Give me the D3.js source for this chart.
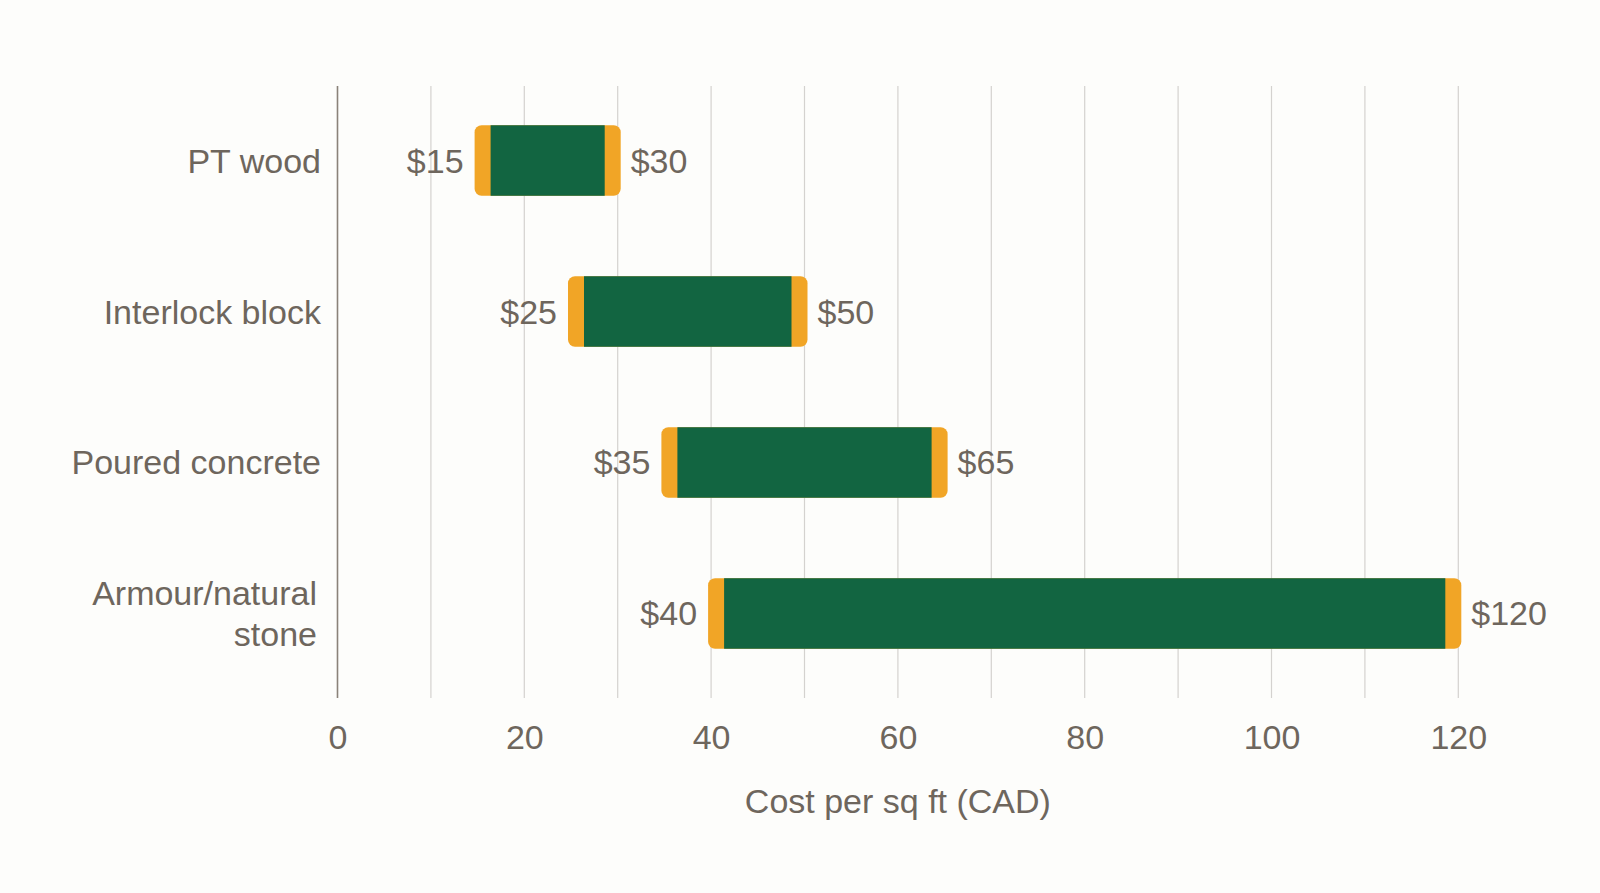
<!DOCTYPE html>
<html lang="en">
<head>
<meta charset="utf-8">
<title>Cost per sq ft</title>
<script src="https://d3js.org/d3.v7.min.js"></script>
<style>
  html, body { margin: 0; padding: 0; background: #fdfdfb; }
  svg { display: block; font-family: "Liberation Sans", Arial, sans-serif; }
  .tick text { fill: #6e665d; font-size: 34px; }
</style>
</head>
<body>
<script>
// data
const categories = ["PT wood", "Interlock block", "Poured concrete", "Armour/natural stone"];
const lowValues = [15, 25, 35, 40];
const highValues = [30, 50, 65, 120];
const xTickValues = [0, 20, 40, 60, 80, 100, 120];
const xTitle = "Cost per sq ft (CAD)";

const w = 1600, h = 893;
const margin = {left: 337.5, right: 141.7, top: 86, bottom: 195};
const textColor = "#6e665d";
const green = "#126541";
const orange = "#f1a526";

const svg = d3.select("body").append("svg")
    .attr("width", w)
    .attr("height", h);

const xScale = d3.scaleLinear()
    .domain([0, 120])
    .range([margin.left, w - margin.right]);

const yScale = d3.scaleBand()
    .domain(categories)
    .range([86, 688])
    .paddingInner(0.533)
    .paddingOuter(0.26);

// gridlines every 10
svg.append("g")
    .selectAll("line")
    .data(d3.range(10, 121, 10))
    .join("line")
    .attr("x1", d => xScale(d)).attr("x2", d => xScale(d))
    .attr("y1", margin.top).attr("y2", h - margin.bottom)
    .attr("stroke", "#d4d2cf")
    .attr("stroke-width", 1.2);

// x axis (labels only)
const xAxis = d3.axisBottom(xScale)
    .tickValues(xTickValues)
    .tickSize(0)
    .tickPadding(27)
    .tickFormat(d3.format("d"));

svg.append("g")
    .attr("transform", `translate(0,${h - margin.bottom})`)
    .call(xAxis)
    .call(g => g.select(".domain").remove());

// y axis line
svg.append("line")
    .attr("x1", xScale(0)).attr("x2", xScale(0))
    .attr("y1", margin.top).attr("y2", h - margin.bottom)
    .attr("stroke", "#8a8279")
    .attr("stroke-width", 1.6);

// category labels
const catLines = {"Armour/natural stone": ["Armour/natural", "stone"]};
categories.forEach(c => {
    const cy = yScale(c) + yScale.bandwidth() / 2;
    const lines = catLines[c] || [c];
    const t = svg.append("text")
        .attr("text-anchor", "end")
        .attr("fill", textColor)
        .style("font-size", "34px");
    lines.forEach((ln, i) => {
        t.append("tspan")
            .attr("x", lines.length > 1 ? 317 : 321)
            .attr("y", cy + 12 + (i - (lines.length - 1) / 2) * 41)
            .text(ln);
    });
});

// bars
const pad = 3, capW = 16;
const rows = categories.map((c, i) => ({cat: c, lo: lowValues[i], hi: highValues[i]}));

const bar = svg.append("g").selectAll("g")
    .data(rows)
    .join("g");

bar.append("rect")
    .attr("x", d => xScale(d.lo) - pad)
    .attr("y", d => yScale(d.cat))
    .attr("width", d => xScale(d.hi) - xScale(d.lo) + 2 * pad)
    .attr("height", yScale.bandwidth())
    .attr("rx", 7)
    .attr("fill", orange);

bar.append("rect")
    .attr("x", d => xScale(d.lo) - pad + capW)
    .attr("y", d => yScale(d.cat))
    .attr("width", d => xScale(d.hi) - xScale(d.lo) + 2 * pad - 2 * capW)
    .attr("height", yScale.bandwidth())
    .attr("fill", green);

bar.append("text")
    .attr("x", d => xScale(d.lo) - pad - 11)
    .attr("y", d => yScale(d.cat) + yScale.bandwidth() / 2 + 12)
    .attr("text-anchor", "end")
    .attr("fill", textColor)
    .style("font-size", "34px")
    .text(d => "$" + d.lo);

bar.append("text")
    .attr("x", d => xScale(d.hi) + pad + 10)
    .attr("y", d => yScale(d.cat) + yScale.bandwidth() / 2 + 12)
    .attr("fill", textColor)
    .style("font-size", "34px")
    .text(d => "$" + d.hi);

// x axis title
svg.append("text")
    .attr("x", (xScale(0) + xScale(120)) / 2)
    .attr("y", 813)
    .attr("text-anchor", "middle")
    .attr("fill", textColor)
    .style("font-size", "34px")
    .text(xTitle);
</script>
</body>
</html>
